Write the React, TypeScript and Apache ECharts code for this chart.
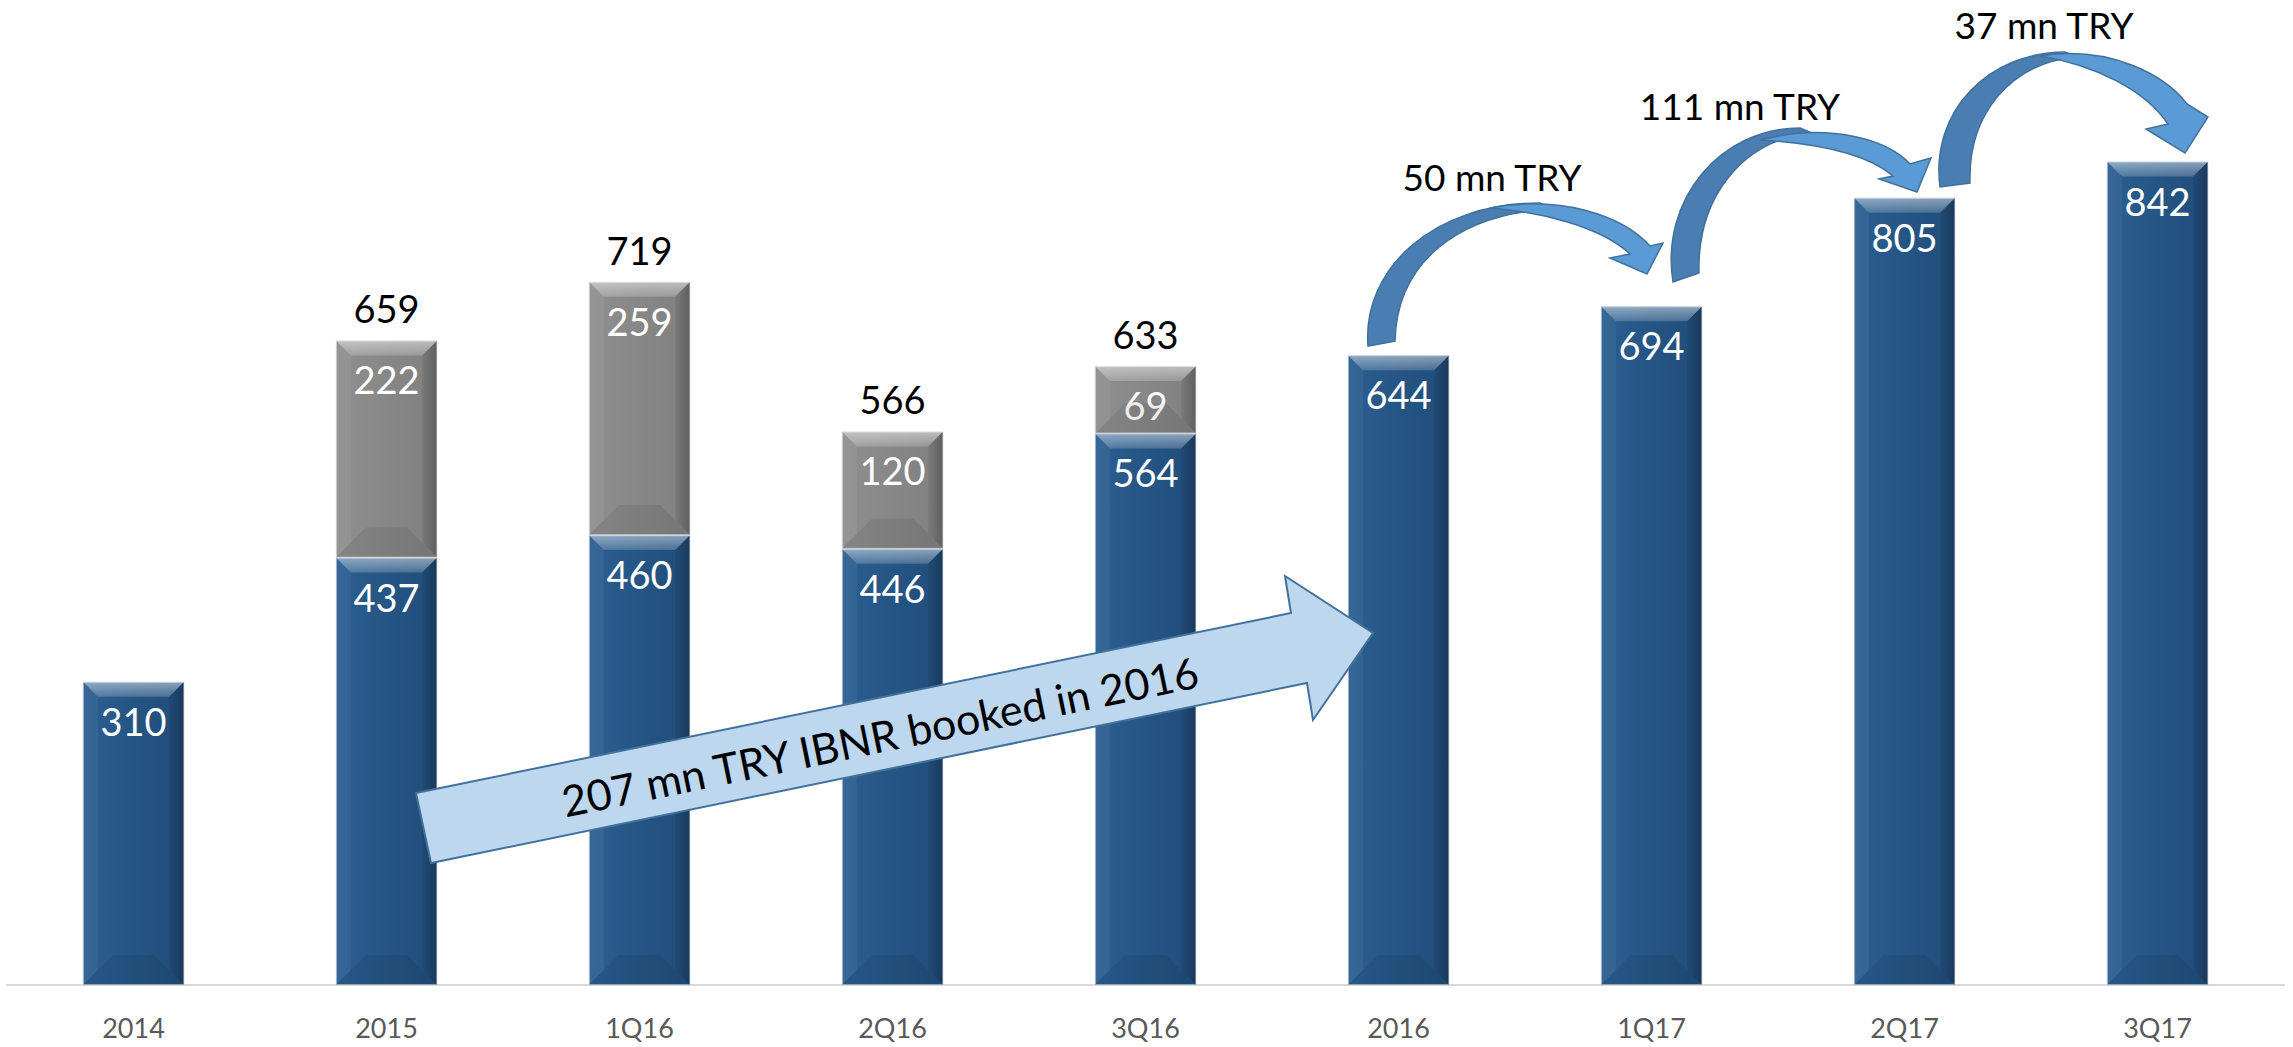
import React, { useEffect, useRef } from 'react';
import * as echarts from 'echarts';

// ---- data ----
const categories = ['2014', '2015', '1Q16', '2Q16', '3Q16', '2016', '1Q17', '2Q17', '3Q17'];
const baseValues = [310, 437, 460, 446, 564, 644, 694, 805, 842];
const ibnrValues: (number | null)[] = [null, 222, 259, 120, 69, null, null, null, null];
const totalValues: (number | null)[] = [null, 659, 719, 566, 633, null, null, null, null];
const ibnrNote = '207 mn TRY IBNR booked in 2016';
const stepNotes = ['50 mn TRY', '111 mn TRY', '37 mn TRY'];

const FONT = 'Lato, "Open Sans", "DejaVu Sans", sans-serif';

// ---- decorative arrow outlines (annotation shapes) ----
const curvedBack = [
  'M1368 346 C1362 270 1432 203 1540 203 L1552 209 C1458 214 1397 262 1395 341 Z',
  'M1673 282 C1660 200 1720 128 1800 128 L1812 133 C1740 140 1697 200 1699 273 Z',
  'M1940 187 C1930 110 1990 52 2065 52 L2078 57 C2010 62 1968 115 1970 183 Z',
];
const curvedFront = [
  'M1490 208 C1560 195 1622 215 1650 246 L1663 243 L1647 274 L1610 258 L1630 254 C1600 226 1540 212 1490 208 Z',
  'M1760 140 C1830 122 1888 140 1910 164 L1931 158 L1917 192 L1879 179 L1893 176 C1865 152 1810 143 1760 140 Z',
  'M2040 56 C2110 45 2165 75 2187 104 L2208 117 L2185 153 L2146 129 L2168 124 C2145 90 2095 65 2040 56 Z',
];
const noteCenters = [
  [1492, 176],
  [1740, 105],
  [2044, 24],
];

curvedBack.forEach((d, k) => {
  echarts.graphic.registerShape('cback' + k, echarts.graphic.extendPath(d, {}));
});
curvedFront.forEach((d, k) => {
  echarts.graphic.registerShape('cfront' + k, echarts.graphic.extendPath(d, {}));
});

const BAR_RATIO = 0.4;

function makeBevel() {
  return (params: any, api: any) => {
    const i = api.value(0);
    const v0 = api.value(1);
    const v1 = api.value(2);
    const top = api.coord([i, v1]);
    const bot = api.coord([i, v0]);
    const bw = api.size([1, 0])[0] * BAR_RATIO;
    const x0 = top[0] - bw / 2;
    const x1 = top[0] + bw / 2;
    const yt = top[1];
    const yb = bot[1];
    const h = yb - yt;
    const b = Math.min(15, h / 2);
    const bb = Math.min(30, h / 2, bw / 2 - 4);
    const LG = echarts.graphic.LinearGradient;
    return {
      type: 'group',
      children: [
        {
          type: 'polygon',
          shape: { points: [[x0, yb], [x1, yb], [x1 - bb, yb - bb], [x0 + bb, yb - bb]] },
          style: { fill: 'rgba(0,0,0,0.07)' },
        },
        {
          type: 'polygon',
          shape: { points: [[x0, yt], [x0 + b, yt + b], [x0 + b, yb - b], [x0, yb]] },
          style: { fill: 'rgba(255,255,255,0.06)' },
        },
        {
          type: 'polygon',
          shape: { points: [[x1, yt], [x1 - b, yt + b], [x1 - b, yb - b], [x1, yb]] },
          style: {
            fill: new LG(0, 0, 1, 0, [
              { offset: 0, color: 'rgba(0,0,0,0.06)' },
              { offset: 1, color: 'rgba(0,0,0,0.26)' },
            ]),
          },
        },
        {
          type: 'polygon',
          shape: { points: [[x0, yt], [x1, yt], [x1 - b, yt + b], [x0 + b, yt + b]] },
          style: {
            fill: new LG(0, 0, 0, 1, [
              { offset: 0, color: 'rgba(255,255,255,0.48)' },
              { offset: 1, color: 'rgba(255,255,255,0.18)' },
            ]),
          },
        },
      ],
    };
  };
}

export default function App() {
  const ref = useRef<HTMLDivElement>(null);

  useEffect(() => {
    if (!ref.current) return;
    const chart = echarts.init(ref.current, undefined, { renderer: 'svg' });

    const blueSegs = baseValues.map((v, i) => [i, 0, v]);
    const graySegs = ibnrValues
      .map((v, i) => (v == null ? null : [i, baseValues[i], baseValues[i] + v]))
      .filter((d) => d != null);

    const blueFill = {
      type: 'linear', x: 0, y: 0, x2: 1, y2: 0,
      colorStops: [
        { offset: 0, color: '#2b5e91' },
        { offset: 0.5, color: '#255584' },
        { offset: 1, color: '#214d7a' },
      ],
    };
    const grayFill = {
      type: 'linear', x: 0, y: 0, x2: 1, y2: 0,
      colorStops: [
        { offset: 0, color: '#8f8f8f' },
        { offset: 0.5, color: '#878787' },
        { offset: 1, color: '#808080' },
      ],
    };

    const insideLabel = {
      show: true,
      position: 'insideTop',
      distance: 17,
      color: '#ffffff',
      fontSize: 38,
      lineHeight: 44,
      fontFamily: FONT,
    };

    const graphic: any[] = [
      {
        type: 'polygon',
        z: 100,
        shape: {
          points: [
            [416, 793],
            [1291, 613],
            [1285, 576],
            [1373, 633],
            [1313, 720],
            [1307, 683],
            [431, 863],
          ],
        },
        style: { fill: '#bdd7ee', stroke: '#41719c', lineWidth: 2 },
      },
      {
        type: 'text',
        z: 101,
        x: 880,
        y: 736,
        rotation: Math.atan(180 / 875),
        style: {
          text: ibnrNote,
          fill: '#000000',
          font: '43px ' + FONT,
          textAlign: 'center',
          textVerticalAlign: 'middle',
          align: 'center',
          verticalAlign: 'middle',
        },
      },
    ];
    curvedBack.forEach((_, k) => {
      graphic.push({
        type: 'cback' + k,
        z: 100,
        x: 0,
        y: 0,
        style: { fill: '#4a7db2', stroke: '#41719c', lineWidth: 1.5 },
      });
      graphic.push({
        type: 'cfront' + k,
        z: 101,
        x: 0,
        y: 0,
        style: { fill: '#5b9bd5', stroke: '#41719c', lineWidth: 1.5 },
      });
      graphic.push({
        type: 'text',
        z: 102,
        x: noteCenters[k][0],
        y: noteCenters[k][1],
        style: {
          text: stepNotes[k],
          fill: '#000000',
          font: '37px ' + FONT,
          textAlign: 'center',
          textVerticalAlign: 'middle',
          align: 'center',
          verticalAlign: 'middle',
        },
      });
    });

    chart.setOption({
      animation: false,
      backgroundColor: '#ffffff',
      grid: { left: 7, right: 9, top: 7, bottom: 62, containLabel: false },
      xAxis: {
        type: 'category',
        data: categories,
        axisLine: { show: true, lineStyle: { color: '#d9d9d9', width: 2 } },
        axisTick: { show: false },
        axisLabel: {
          color: '#595959',
          fontSize: 27,
          lineHeight: 32,
          margin: 26,
          fontFamily: FONT,
        },
      },
      yAxis: { type: 'value', min: 0, max: 1000, show: false },
      series: [
        {
          name: 'Base',
          type: 'bar',
          stack: 'total',
          barWidth: BAR_RATIO * 100 + '%',
          barGap: '-100%',
          data: baseValues,
          z: 2,
          itemStyle: { color: blueFill, borderColor: 'rgba(160,180,200,0.8)', borderWidth: 1 },
          label: insideLabel,
        },
        {
          name: 'IBNR',
          type: 'bar',
          stack: 'total',
          barWidth: BAR_RATIO * 100 + '%',
          barGap: '-100%',
          data: ibnrValues,
          z: 2,
          itemStyle: { color: grayFill, borderColor: 'rgba(200,200,200,0.9)', borderWidth: 1 },
          label: insideLabel,
        },
        {
          name: 'Total',
          type: 'bar',
          barWidth: BAR_RATIO * 100 + '%',
          barGap: '-100%',
          data: totalValues,
          silent: true,
          z: 4,
          itemStyle: { color: 'rgba(0,0,0,0)' },
          label: {
            show: true,
            position: 'top',
            distance: 10,
            color: '#000000',
            fontSize: 38,
            lineHeight: 44,
            fontFamily: FONT,
          },
        },
        {
          name: 'BevelBase',
          type: 'custom',
          silent: true,
          z: 3,
          renderItem: makeBevel(),
          encode: { x: 0, y: [1, 2] },
          data: blueSegs,
        },
        {
          name: 'BevelIBNR',
          type: 'custom',
          silent: true,
          z: 3,
          renderItem: makeBevel(),
          encode: { x: 0, y: [1, 2] },
          data: graySegs,
        },
      ],
      graphic,
    });

    return () => {
      chart.dispose();
    };
  }, []);

  return (
    <div
      ref={ref}
      style={{
        position: 'absolute',
        left: 0,
        top: 0,
        width: '2293px',
        height: '1047px',
        background: '#ffffff',
      }}
    />
  );
}
